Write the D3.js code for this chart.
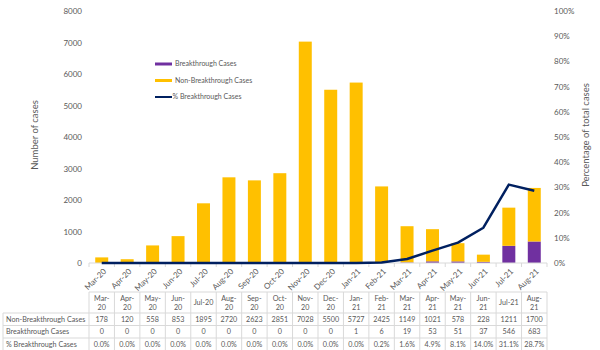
<!DOCTYPE html>
<html><head><meta charset="utf-8">
<script src="https://cdn.jsdelivr.net/npm/d3@7"></script>
<style>body{margin:0;background:#fff;}svg{display:block;font-family:Lato,"Open Sans",sans-serif;}</style>
</head><body><svg id="c" width="600" height="350"></svg>
<script>
const months = ["Mar-20","Apr-20","May-20","Jun-20","Jul-20","Aug-20","Sep-20","Oct-20","Nov-20","Dec-20","Jan-21","Feb-21","Mar-21","Apr-21","May-21","Jun-21","Jul-21","Aug-21"];
const nonBreakthrough = [178,120,558,853,1895,2720,2623,2851,7028,5500,5727,2425,1149,1021,578,228,1211,1700];
const breakthrough = [0,0,0,0,0,0,0,0,0,0,1,6,19,53,51,37,546,683];
const pctBreakthrough = [0.0,0.0,0.0,0.0,0.0,0.0,0.0,0.0,0.0,0.0,0.0,0.2,1.6,4.9,8.1,14.0,31.1,28.7];
const leftTicks = [0,1000,2000,3000,4000,5000,6000,7000,8000];
const rightTicks = [0,10,20,30,40,50,60,70,80,90,100];
const seriesNames = ["Breakthrough Cases","Non-Breakthrough Cases","% Breakthrough Cases"];
const colors = {b:"#7030a0", n:"#ffc000", p:"#002060"};
const gray = "#595959";

const svg = d3.select("#c");
const X0 = 89, X1 = 547;
const x = d3.scaleBand().domain(months).range([X0,X1]).paddingInner(0.49).paddingOuter(0.245);
const xb = d3.scaleBand().domain(months).range([X0,X1]);
const y = d3.scaleLinear().domain([0,8000]).range([263,11]);
const y2 = d3.scaleLinear().domain([0,100]).range([263,11]);

const gl = svg.append("g").attr("transform","translate(86,0)")
  .call(d3.axisLeft(y).tickValues(leftTicks).tickSize(0).tickPadding(4).tickFormat(d3.format("d")));
gl.select(".domain").remove();
gl.selectAll("text").attr("fill",gray).style("font-size","8px").style("font-family","Lato,sans-serif");

const gr = svg.append("g").attr("transform","translate(551,0)")
  .call(d3.axisRight(y2).tickValues(rightTicks).tickSize(0).tickPadding(3).tickFormat(d=>d+"%"));
gr.select(".domain").remove();
gr.selectAll("text").attr("fill",gray).style("font-size","8px").style("font-family","Lato,sans-serif");

svg.append("text").attr("transform","translate(38,135) rotate(-90)").attr("text-anchor","middle")
  .attr("fill",gray).style("font-size","9.5px").text("Number of cases");
svg.append("text").attr("transform","translate(589,135) rotate(-90)").attr("text-anchor","middle")
  .attr("fill",gray).style("font-size","9.5px").text("Percentage of total cases");

const stackData = months.map((m,i)=>({m, b:breakthrough[i], n:nonBreakthrough[i]}));
const stack = d3.stack().keys(["b","n"])(stackData);
svg.append("g").selectAll("g").data(stack).join("g").attr("fill",d=>colors[d.key])
  .selectAll("rect").data(d=>d).join("rect")
  .attr("x",d=>x(d.data.m)).attr("width",x.bandwidth())
  .attr("y",d=>y(d[1])).attr("height",d=>y(d[0])-y(d[1]));

const gx = svg.append("g").attr("transform","translate(0,263)");
gx.append("line").attr("x1",X0).attr("x2",X1).attr("stroke","#d9d9d9").attr("stroke-width",1);
gx.selectAll("line.tk").data(d3.range(months.length+1)).join("line").attr("class","tk")
  .attr("x1",i=>X0+i*xb.step()).attr("x2",i=>X0+i*xb.step()).attr("y1",0).attr("y2",4)
  .attr("stroke","#d9d9d9");
gx.selectAll("text").data(months).join("text")
  .attr("transform",d=>`translate(${xb(d)+xb.bandwidth()/2+3},7) rotate(-45)`)
  .attr("text-anchor","end").attr("dy","0.35em").attr("fill",gray).style("font-size","8px").text(d=>d);

const line = d3.line().x((d,i)=>xb(months[i])+xb.bandwidth()/2).y(d=>y2(d)).curve(d3.curveLinear);
svg.append("path").datum(pctBreakthrough).attr("d",line).attr("fill","none")
  .attr("stroke",colors.p).attr("stroke-width",2.5).attr("stroke-linejoin","round");

const lg = svg.append("g");
["b","n","p"].forEach((k,i)=>{
  const yy = 64 + i*16.5;
  lg.append("line").attr("x1",155).attr("x2",172).attr("y1",yy).attr("y2",yy)
    .attr("stroke",colors[k]).attr("stroke-width",k==="p"?2:3);
  lg.append("text").attr("x",k==="p"?172.5:175).attr("y",yy).attr("dy","0.35em")
    .attr("fill",gray).style("font-size","7px").text(seriesNames[i]);
});

const tb = svg.append("g").style("font-size","7.2px");
const tTop = 292, hdrB = 313, rh = 12.5;
const rowsY = [hdrB, hdrB+rh, hdrB+2*rh, hdrB+3*rh];
const bc = "#d9d9d9";
tb.append("line").attr("x1",X0).attr("x2",X1).attr("y1",tTop).attr("y2",tTop).attr("stroke",bc);
rowsY.forEach(yy=>tb.append("line").attr("x1",3).attr("x2",X1).attr("y1",yy).attr("y2",yy).attr("stroke",bc));
d3.range(months.length+1).forEach(i=>{
  const xx = X0+i*xb.step();
  tb.append("line").attr("x1",xx).attr("x2",xx).attr("y1",tTop).attr("y2",rowsY[3]).attr("stroke",bc);
});
tb.append("line").attr("x1",3).attr("x2",3).attr("y1",hdrB).attr("y2",rowsY[3]).attr("stroke",bc);
months.forEach(m=>{
  const cx = xb(m)+xb.bandwidth()/2;
  const parts = m.split("-");
  const t = tb.append("text").attr("text-anchor","middle").attr("fill",gray);
  if (m==="Jul-20"||m==="Jul-21") {
    t.attr("x",cx).attr("y",(tTop+hdrB)/2).attr("dy","0.35em").text(m);
  } else {
    t.append("tspan").attr("x",cx).attr("y",tTop+8.5).text(parts[0]+"-");
    t.append("tspan").attr("x",cx).attr("y",tTop+17.5).text(parts[1]);
  }
});
const rowsData = [
  [seriesNames[1], nonBreakthrough.map(String)],
  [seriesNames[0], breakthrough.map(String)],
  [seriesNames[2], pctBreakthrough.map(v=>v.toFixed(1)+"%")]
];
rowsData.forEach((r,ri)=>{
  const cy = rowsY[ri]+rh/2;
  tb.append("text").attr("x",6).attr("y",cy).attr("dy","0.35em").attr("fill",gray).text(r[0]);
  r[1].forEach((v,i)=>{
    tb.append("text").attr("x",xb(months[i])+xb.bandwidth()/2).attr("y",cy).attr("dy","0.35em")
      .attr("text-anchor","middle").attr("fill",gray).text(v);
  });
});
</script></body></html>
